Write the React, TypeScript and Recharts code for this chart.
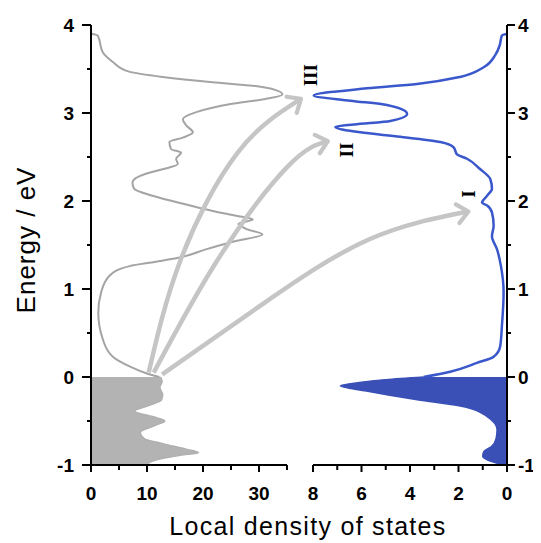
import React from 'react';
import {
  ComposedChart,
  Line,
  Area,
  XAxis,
  YAxis,
  ReferenceLine,
  ReferenceDot,
  Customized,
} from 'recharts';

// ---------- tick values ----------
const energyTicks = [-1, -0.5, 0, 0.5, 1, 1.5, 2, 2.5, 3, 3.5, 4];
const leftDosTicks = [0, 5, 10, 15, 20, 25, 30, 35];
const rightDosTicks = [0, 1, 2, 3, 4, 5, 6, 7, 8];

// ---------- left panel (gray) : d = LDOS, e = energy ----------
const leftOccupied = [
  { e: -1.0, d: 10.0 },
  { e: -0.97, d: 10.5 },
  { e: -0.93, d: 12.5 },
  { e: -0.89, d: 16.0 },
  { e: -0.86, d: 19.2 },
  { e: -0.82, d: 17.0 },
  { e: -0.76, d: 13.0 },
  { e: -0.7, d: 9.5 },
  { e: -0.63, d: 8.8 },
  { e: -0.55, d: 11.5 },
  { e: -0.5, d: 13.2 },
  { e: -0.45, d: 11.0 },
  { e: -0.39, d: 7.8 },
  { e: -0.32, d: 10.5 },
  { e: -0.26, d: 12.6 },
  { e: -0.2, d: 12.8 },
  { e: -0.12, d: 12.3 },
  { e: -0.05, d: 12.7 },
  { e: 0.0, d: 12.4 },
];

const leftEmpty = [
  { e: 0.0, d: 12.2 },
  { e: 0.04, d: 10.0 },
  { e: 0.12, d: 6.9 },
  { e: 0.23, d: 3.9 },
  { e: 0.43, d: 2.1 },
  { e: 0.73, d: 1.3 },
  { e: 0.96, d: 1.8 },
  { e: 1.15, d: 3.3 },
  { e: 1.26, d: 6.9 },
  { e: 1.31, d: 11.6 },
  { e: 1.36, d: 16.0 },
  { e: 1.45, d: 20.5 },
  { e: 1.54, d: 25.5 },
  { e: 1.62, d: 30.6 },
  { e: 1.68, d: 27.8 },
  { e: 1.74, d: 26.3 },
  { e: 1.79, d: 28.9 },
  { e: 1.82, d: 27.0 },
  { e: 1.87, d: 22.9 },
  { e: 1.96, d: 17.0 },
  { e: 2.06, d: 11.0 },
  { e: 2.14, d: 7.7 },
  { e: 2.21, d: 7.4 },
  { e: 2.31, d: 9.8 },
  { e: 2.36, d: 12.8 },
  { e: 2.42, d: 15.5 },
  { e: 2.48, d: 15.2 },
  { e: 2.55, d: 16.1 },
  { e: 2.59, d: 14.3 },
  { e: 2.67, d: 14.0 },
  { e: 2.72, d: 16.4 },
  { e: 2.78, d: 18.2 },
  { e: 2.86, d: 17.0 },
  { e: 2.93, d: 16.4 },
  { e: 3.01, d: 18.8 },
  { e: 3.1, d: 24.7 },
  { e: 3.16, d: 31.2 },
  { e: 3.21, d: 34.2 },
  { e: 3.26, d: 33.0 },
  { e: 3.31, d: 28.9 },
  { e: 3.35, d: 21.7 },
  { e: 3.41, d: 12.8 },
  { e: 3.47, d: 6.8 },
  { e: 3.58, d: 3.9 },
  { e: 3.69, d: 2.1 },
  { e: 3.88, d: 1.2 },
  { e: 3.9, d: 0.0 },
];

// ---------- right panel (blue) ----------
const rightOccupied = [
  { e: -1.0, d: 0.2 },
  { e: -0.98, d: 0.4 },
  { e: -0.94, d: 0.82 },
  { e: -0.9, d: 1.0 },
  { e: -0.85, d: 0.96 },
  { e: -0.79, d: 0.64 },
  { e: -0.7, d: 0.45 },
  { e: -0.6, d: 0.41 },
  { e: -0.45, d: 0.82 },
  { e: -0.33, d: 1.93 },
  { e: -0.26, d: 3.7 },
  { e: -0.16, d: 5.8 },
  { e: -0.1, d: 6.87 },
  { e: -0.06, d: 6.0 },
  { e: -0.03, d: 5.0 },
  { e: 0.0, d: 3.44 },
];

const rightEmpty = [
  { e: 0.0, d: 3.44 },
  { e: 0.06, d: 2.34 },
  { e: 0.16, d: 1.24 },
  { e: 0.23, d: 0.55 },
  { e: 0.35, d: 0.28 },
  { e: 0.58, d: 0.21 },
  { e: 0.96, d: 0.14 },
  { e: 1.26, d: 0.25 },
  { e: 1.45, d: 0.41 },
  { e: 1.6, d: 0.62 },
  { e: 1.72, d: 0.55 },
  { e: 1.87, d: 0.62 },
  { e: 1.95, d: 0.82 },
  { e: 1.98, d: 1.03 },
  { e: 2.06, d: 0.82 },
  { e: 2.14, d: 0.62 },
  { e: 2.25, d: 0.69 },
  { e: 2.36, d: 1.1 },
  { e: 2.48, d: 1.65 },
  { e: 2.53, d: 2.06 },
  { e: 2.61, d: 2.2 },
  { e: 2.67, d: 2.75 },
  { e: 2.73, d: 4.4 },
  { e: 2.78, d: 6.05 },
  { e: 2.84, d: 7.08 },
  { e: 2.87, d: 6.3 },
  { e: 2.91, d: 4.81 },
  { e: 2.99, d: 4.12 },
  { e: 3.09, d: 4.95 },
  { e: 3.14, d: 6.46 },
  { e: 3.2, d: 7.97 },
  { e: 3.28, d: 5.77 },
  { e: 3.33, d: 3.71 },
  { e: 3.41, d: 1.93 },
  { e: 3.52, d: 0.96 },
  { e: 3.66, d: 0.48 },
  { e: 3.77, d: 0.3 },
  { e: 3.88, d: 0.21 },
  { e: 3.9, d: 0.0 },
];

// ---------- excitation arrows (in left-panel LDOS units) ----------
const arrowIII = [
  { e: 0.05, d: 10.3 },
  { e: 1.33, d: 16.0 },
  { e: 2.55, d: 26.2 },
  { e: 3.16, d: 37.5 },
];
const arrowII = [
  { e: 0.05, d: 11.2 },
  { e: 1.33, d: 22.6 },
  { e: 2.39, d: 35.1 },
  { e: 2.68, d: 42.3 },
];
const arrowI = [
  { e: 0.03, d: 12.7 },
  { e: 0.84, d: 30.9 },
  { e: 1.56, d: 49.5 },
  { e: 1.88, d: 67.4 },
];

// ---------- peak labels (right-panel LDOS units) ----------
const peakLabels = [
  { text: 'III', d: 8.12, e: 3.43 },
  { text: 'II', d: 6.6, e: 2.58 },
  { text: 'I', d: 1.6, e: 2.08 },
];

// left-panel LDOS scale continued across the whole plot width (for arrows)
const arrowDomainMax = 35 * (416 / 196);

const TICK_FONT = '"Liberation Sans", Arial, sans-serif';

const LeftYTick = (props: any) => {
  const { x, y, payload } = props;
  const v = payload.value;
  const major = Number.isInteger(v);
  return (
    <g>
      <line x1={x} x2={x - (major ? 9 : 4)} y1={y} y2={y} stroke="#000" strokeWidth={2} />
      {major && (
        <text x={x - 17} y={y} dy="0.36em" textAnchor="end" fontFamily={TICK_FONT} fontWeight="bold" fontSize={19} fill="#000">
          {v}
        </text>
      )}
    </g>
  );
};

const RightYTick = (props: any) => {
  const { x, y, payload } = props;
  const v = payload.value;
  const major = Number.isInteger(v);
  return (
    <g>
      <line x1={x} x2={x + (major ? 8 : 4)} y1={y} y2={y} stroke="#000" strokeWidth={2} />
      {major && (
        <text x={x + 11} y={y} dy="0.36em" textAnchor="start" fontFamily={TICK_FONT} fontWeight="bold" fontSize={19} fill="#000">
          {v}
        </text>
      )}
    </g>
  );
};

const makeBottomTick = (step: number) => (props: any) => {
  const { x, y, payload } = props;
  const v = payload.value;
  const major = v % step === 0;
  return (
    <g>
      <line x1={x} x2={x} y1={y} y2={y + (major ? 7 : 5)} stroke="#000" strokeWidth={2} />
      {major && (
        <text x={x} y={y + 35} textAnchor="middle" fontFamily={TICK_FONT} fontWeight="bold" fontSize={19} fill="#000">
          {v}
        </text>
      )}
    </g>
  );
};

const LeftBottomTick = makeBottomTick(10);
const RightBottomTick = makeBottomTick(2);

const PeakLabel = (text: string) => (props: any) => {
  const { cx, cy } = props;
  return (
    <text
      x={cx}
      y={cy}
      transform={`rotate(90, ${cx}, ${cy})`}
      textAnchor="middle"
      dominantBaseline="central"
      fontFamily='"Liberation Serif", "DejaVu Serif", serif'
      fontWeight="bold"
      fontSize={19}
      fill="#000"
    >
      {text}
    </text>
  );
};

const Defs = () => (
  <defs>
    <marker
      id="arrowHead"
      viewBox="0 0 26 26"
      refX="16"
      refY="13"
      markerWidth="26"
      markerHeight="26"
      markerUnits="userSpaceOnUse"
      orient="auto"
    >
      <path d="M5,3.5 L16,13 L5,22.5" fill="none" stroke="#c5c5c5" strokeWidth="4.2" strokeLinecap="round" strokeLinejoin="round" />
    </marker>
  </defs>
);

const Titles = () => (
  <g>
    <text
      x={18}
      y={232}
      transform="rotate(-90, 18, 232)"
      textAnchor="middle"
      dominantBaseline="central"
      fontFamily={TICK_FONT}
      fontSize={26}
      letterSpacing={1}
      fill="#000"
    >
      Energy / eV
    </text>
    <text x={300} y={527} textAnchor="middle" fontFamily={TICK_FONT} fontSize={25} letterSpacing={1.3} fill="#000">
      Local density of states
    </text>
  </g>
);

const arrowProps = {
  xAxisId: 'A',
  yAxisId: 'L',
  dataKey: 'd',
  type: 'natural' as const,
  stroke: '#c5c5c5',
  strokeWidth: 4.5,
  dot: false,
  activeDot: false,
  isAnimationActive: false,
  markerEnd: 'url(#arrowHead)',
};

export default function App() {
  return (
    <div style={{ width: 533, height: 535 }}>
      <ComposedChart
        width={533}
        height={535}
        layout="vertical"
        margin={{ top: 17, right: 0, bottom: 78, left: 0 }}
      >
        <Customized component={<Defs />} />
        <XAxis
          xAxisId="L"
          type="number"
          domain={[0, 35]}
          ticks={leftDosTicks}
          interval={0}
          padding={{ left: 0, right: 220 }}
          height={0.01}
          axisLine={false}
          tickLine={false}
          tickSize={0}
          tickMargin={0}
          tick={<LeftBottomTick />}
        />
        <XAxis
          xAxisId="R"
          type="number"
          domain={[0, 8]}
          ticks={rightDosTicks}
          interval={0}
          reversed
          padding={{ left: 222, right: 0 }}
          height={0.01}
          axisLine={false}
          tickLine={false}
          tickSize={0}
          tickMargin={0}
          tick={<RightBottomTick />}
        />
        <XAxis xAxisId="A" type="number" domain={[0, arrowDomainMax]} hide height={0.01} />
        <YAxis
          yAxisId="L"
          orientation="left"
          type="number"
          dataKey="e"
          domain={[-1, 4]}
          ticks={energyTicks}
          interval={0}
          reversed
          width={83}
          axisLine={{ stroke: '#000', strokeWidth: 2 }}
          tickLine={false}
          tickSize={0}
          tickMargin={0}
          tick={<LeftYTick />}
        />
        <YAxis
          yAxisId="R"
          orientation="right"
          type="number"
          dataKey="e"
          domain={[-1, 4]}
          ticks={energyTicks}
          interval={0}
          reversed
          width={34}
          axisLine={{ stroke: '#000', strokeWidth: 2 }}
          tickLine={false}
          tickSize={0}
          tickMargin={0}
          tick={<RightYTick />}
        />

        <ReferenceLine
          xAxisId="L"
          yAxisId="L"
          segment={[{ x: 0, y: -1 }, { x: 35, y: -1 }]}
          stroke="#000"
          strokeWidth={2}
          ifOverflow="visible"
        />
        <ReferenceLine
          xAxisId="R"
          yAxisId="R"
          segment={[{ x: 8, y: -1 }, { x: 0, y: -1 }]}
          stroke="#000"
          strokeWidth={2}
          ifOverflow="visible"
        />

        <Area
          xAxisId="L"
          yAxisId="L"
          data={leftOccupied}
          dataKey="d"
          type="monotone"
          fill="#b3b3b3"
          fillOpacity={1}
          stroke="#b0b0b0"
          strokeWidth={1.5}
          isAnimationActive={false}
        />
        <Area
          xAxisId="R"
          yAxisId="R"
          data={rightOccupied}
          dataKey="d"
          type="monotone"
          fill="#3a50b6"
          fillOpacity={1}
          stroke="#3a50b6"
          strokeWidth={1.5}
          isAnimationActive={false}
        />
        <Line
          xAxisId="L"
          yAxisId="L"
          data={leftEmpty}
          dataKey="d"
          type="monotone"
          stroke="#a4a4a4"
          strokeWidth={2}
          dot={false}
          activeDot={false}
          isAnimationActive={false}
        />
        <Line
          xAxisId="R"
          yAxisId="R"
          data={rightEmpty}
          dataKey="d"
          type="monotone"
          stroke="#3a58cc"
          strokeWidth={2.5}
          dot={false}
          activeDot={false}
          isAnimationActive={false}
        />

        <Line {...arrowProps} data={arrowIII} />
        <Line {...arrowProps} data={arrowII} />
        <Line {...arrowProps} data={arrowI} />

        {peakLabels.map((p) => (
          <ReferenceDot
            key={p.text}
            xAxisId="R"
            yAxisId="R"
            x={p.d}
            y={p.e}
            r={0}
            ifOverflow="visible"
            shape={PeakLabel(p.text)}
          />
        ))}

        <Customized component={<Titles />} />
      </ComposedChart>
    </div>
  );
}
